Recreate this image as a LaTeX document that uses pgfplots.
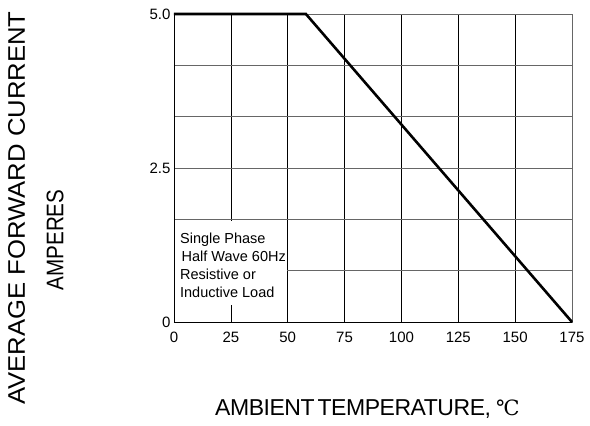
\documentclass[border=0pt]{standalone}
\usepackage{pgfplots}
\pgfplotsset{compat=1.18}
\usepackage{fontspec}
\setmainfont{Liberation Sans}
\newfontfamily\dejavu{DejaVu Serif}
\begin{document}
\begin{tikzpicture}
\path[use as bounding box] (-174bp,-104bp) rectangle (416bp,322bp);
\begin{axis}[
  at={(0,0)}, anchor=origin,
  scale only axis, width=398bp, height=308bp,
  xmin=0, xmax=175, ymin=0, ymax=5,
  xtick={0,25,...,175},
  ytick={0,0.833333,1.666667,2.5,3.333333,4.166667,5},
  yticklabels={0\hspace{8bp},,,2.5,,,5.0},
  major tick length=0pt,
  grid=major,
  x grid style={black, line width=0.7bp},
  y grid style={black!60, line width=0.8bp},
  axis line style={draw=black!60, line width=0.8bp},
  /pgf/number format/assume math mode=true,
  tick label style={font=\fontsize{15bp}{17bp}\selectfont},
  xticklabel style={yshift=-7bp},
  clip=false,
]
\draw[black, line width=0.8bp] (rel axis cs:0,1) -- (rel axis cs:0,0) -- (rel axis cs:1,0);
\fill[white] (axis cs:0.5,0.28) rectangle (axis cs:49.7,1.64);
\node[anchor=base west, align=left, inner sep=0pt, font=\fontsize{14.5bp}{18bp}\selectfont]
  at (axis cs:2.6,0.39) {Single Phase\\\hspace*{1.5bp}Half Wave 60Hz\\Resistive or\\Inductive Load};
\addplot[black, line width=2.6bp] coordinates {(0,5) (58,5) (175,0)};
\end{axis}
\node[rotate=90, inner sep=0pt, font=\fontsize{24bp}{26bp}\selectfont] at (-157.5bp,114bp) {\scalebox{1.07}[1]{AVERAGE FORWARD CURRENT}};
\node[rotate=90, inner sep=0pt, font=\fontsize{24bp}{26bp}\selectfont] at (-119bp,82bp) {\scalebox{0.86}[1]{AMPERES}};
\node[anchor=base west, inner sep=0pt, font=\fontsize{23bp}{25bp}\selectfont] at (41bp,-93bp) {\addfontfeatures{LetterSpace=-2}AMBIENT\hspace{-3bp} TEMPERATURE,\hspace{5bp}{\dejavu\fontsize{21bp}{23bp}\selectfont ℃}};
\end{tikzpicture}
\end{document}
